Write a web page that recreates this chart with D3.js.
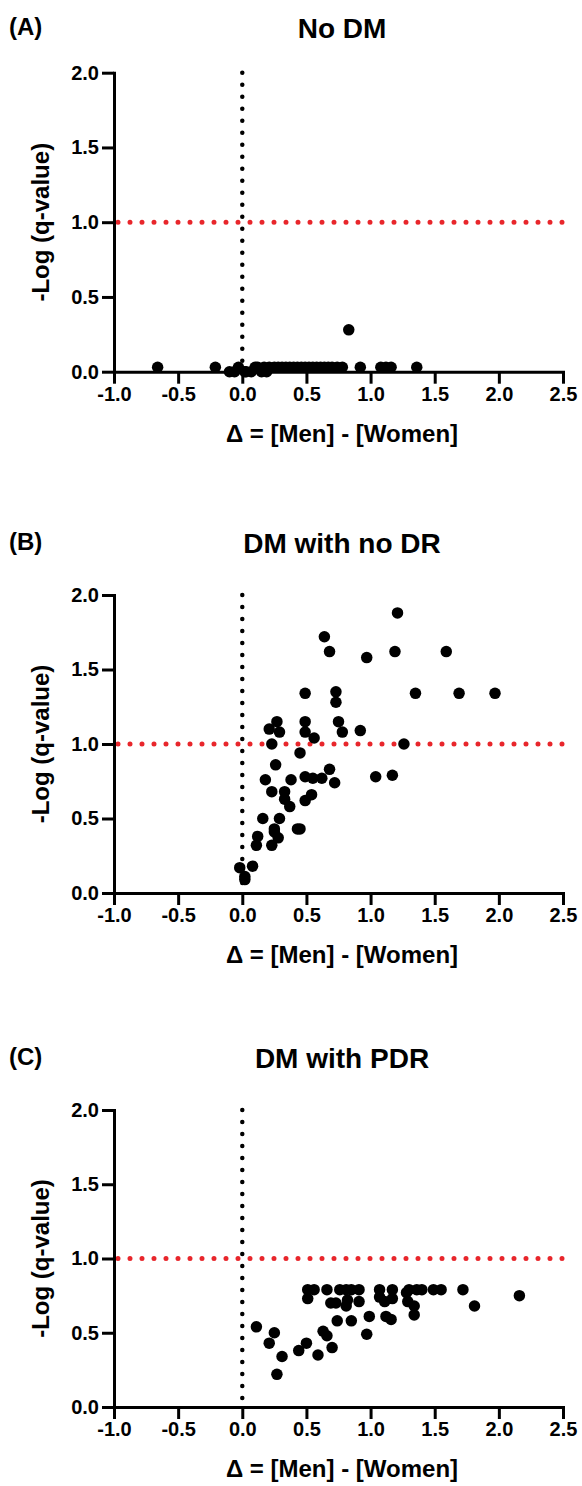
<!DOCTYPE html>
<html lang="en">
<head>
<meta charset="utf-8">
<style>
  body { margin: 0; background: #fff; }
  text { font-family: "Liberation Sans", Arial, sans-serif; font-weight: bold; fill: #000; }
  .axis path, .axis line { stroke: #000; stroke-width: 3; }
  .axis text { font-size: 20px; }
</style>
</head>
<body>
<script src="https://cdn.jsdelivr.net/npm/d3@7"></script>
<script>
// panel labels and titles
var panelLetters = ["(A)", "(B)", "(C)"];
var panelTitles = ["No DM", "DM with no DR", "DM with PDR"];
var xTicks = [-1.0, -0.5, 0.0, 0.5, 1.0, 1.5, 2.0, 2.5];
var yTicks = [0.0, 0.5, 1.0, 1.5, 2.0];
var xTitle = "\u0394 = [Men] - [Women]";
var yTitle = "-Log (q-value)";
var threshold = 1.0;

// (A) No DM
var aX = [-0.66, -0.21, -0.10, -0.06, -0.03, 0.02, 0.03, 0.07, 0.10, 0.12, 0.15, 0.19,
          0.17, 0.21, 0.25, 0.28, 0.31, 0.34, 0.37, 0.40, 0.43, 0.46, 0.49, 0.52, 0.55,
          0.58, 0.61, 0.64, 0.67, 0.70, 0.74, 0.78, 0.83, 0.92, 1.08, 1.12, 1.16, 1.36];
var aY = [0.03, 0.03, 0.00, 0.00, 0.03, 0.00, 0.00, 0.00, 0.03, 0.03, 0.00, 0.00,
          0.03, 0.03, 0.03, 0.03, 0.03, 0.03, 0.03, 0.03, 0.03, 0.03, 0.03, 0.03, 0.03,
          0.03, 0.03, 0.03, 0.03, 0.03, 0.03, 0.03, 0.28, 0.03, 0.03, 0.03, 0.03, 0.03];

// (B) DM with no DR
var bX = [1.21, 0.64, 0.68, 0.97, 1.19, 1.59, 0.49, 0.73, 0.73, 1.35, 1.69, 1.97,
          0.27, 0.21, 0.29, 0.49, 0.49, 0.56, 0.75, 0.78, 0.92, 0.23, 1.26, 0.45,
          0.26, 0.18, 0.38, 0.49, 0.55, 0.62, 0.68, 0.72, 1.04, 1.17, 0.23, 0.33, 0.33,
          0.37, 0.49, 0.54, 0.16, 0.29, 0.25, 0.25, 0.28, 0.43, 0.45, 0.12, 0.11, 0.23,
          -0.02, 0.08, 0.02, 0.02];
var bY = [1.88, 1.72, 1.62, 1.58, 1.62, 1.62, 1.34, 1.35, 1.28, 1.34, 1.34, 1.34,
          1.15, 1.10, 1.08, 1.15, 1.08, 1.04, 1.15, 1.08, 1.09, 1.00, 1.00, 0.94,
          0.86, 0.76, 0.76, 0.78, 0.77, 0.77, 0.83, 0.74, 0.78, 0.79, 0.68, 0.68, 0.63,
          0.58, 0.62, 0.66, 0.50, 0.50, 0.43, 0.41, 0.37, 0.43, 0.43, 0.38, 0.32, 0.32,
          0.17, 0.18, 0.11, 0.09];

// (C) DM with PDR
var cX = [0.51, 0.56, 0.66, 0.76, 0.81, 0.85, 0.91, 1.07, 1.17, 1.30, 1.36, 1.40,
          1.49, 1.55, 1.72, 2.16, 1.81, 0.51, 0.69, 0.73, 0.81, 0.82, 0.91, 1.07,
          1.11, 1.17, 1.28, 1.29, 1.34, 1.34, 1.12, 1.16, 0.99, 0.97, 0.74, 0.85,
          0.63, 0.66, 0.70, 0.59, 0.50, 0.44, 0.11, 0.25, 0.21, 0.31, 0.27];
var cY = [0.79, 0.79, 0.79, 0.79, 0.79, 0.79, 0.79, 0.79, 0.79, 0.79, 0.79, 0.79,
          0.79, 0.79, 0.79, 0.75, 0.68, 0.73, 0.70, 0.70, 0.68, 0.72, 0.71, 0.74,
          0.71, 0.73, 0.77, 0.71, 0.68, 0.62, 0.61, 0.59, 0.61, 0.49, 0.58, 0.58,
          0.51, 0.48, 0.40, 0.35, 0.43, 0.38, 0.54, 0.50, 0.43, 0.34, 0.22];

var seriesX = [aX, bX, cX];
var seriesY = [aY, bY, cY];

// layout of each panel
var labelTop = [20, 535, 1050];
var plotTop = [72.7, 595, 1110];
var plotBottom = [371.7, 893, 1407];
var left = 114, right = 563;

var svg = d3.select("body").append("svg")
  .attr("width", 582)
  .attr("height", 1486);

function fmt(d) { return d.toFixed(1); }

panelTitles.forEach(function(title, i) {
  var x = d3.scaleLinear().domain([-1, 2.5]).range([left, right]);
  var y = d3.scaleLinear().domain([0, 2]).range([plotBottom[i], plotTop[i]]);
  var g = svg.append("g");

  // panel letter and title
  g.append("text")
    .attr("x", 9)
    .attr("y", labelTop[i] + 14.5)
    .style("font-size", "24px")
    .text(panelLetters[i]);
  g.append("text")
    .attr("x", 342)
    .attr("y", labelTop[i] + 17.5)
    .attr("text-anchor", "middle")
    .style("font-size", "28px")
    .text(title);

  // vertical dotted line at 0
  g.append("line")
    .attr("x1", x(0)).attr("x2", x(0))
    .attr("y1", y(2)).attr("y2", y(0))
    .attr("stroke", "#000")
    .attr("stroke-width", 4.5)
    .attr("stroke-linecap", "round")
    .attr("stroke-dasharray", "0,12");

  // red threshold line
  g.append("line")
    .attr("x1", x(-1) + 4).attr("x2", x(2.5))
    .attr("y1", y(threshold)).attr("y2", y(threshold))
    .attr("stroke", "#e8262b")
    .attr("stroke-width", 5)
    .attr("stroke-linecap", "round")
    .attr("stroke-dasharray", "0,12");

  // axes
  g.append("g")
    .attr("class", "axis")
    .attr("transform", "translate(0," + plotBottom[i] + ")")
    .call(d3.axisBottom(x).tickValues(xTicks).tickSize(12).tickSizeOuter(0).tickPadding(3).tickFormat(fmt));
  g.append("g")
    .attr("class", "axis")
    .attr("transform", "translate(" + left + ",0)")
    .call(d3.axisLeft(y).tickValues(yTicks).tickSize(12).tickSizeOuter(0).tickPadding(3).tickFormat(fmt));
  g.selectAll(".axis .domain").attr("stroke-linecap", "square");

  // axis titles
  g.append("text")
    .attr("x", 342)
    .attr("y", plotBottom[i] + 70)
    .attr("text-anchor", "middle")
    .style("font-size", "24px")
    .text(xTitle);
  g.append("text")
    .attr("transform", "translate(49," + y(1) + ") rotate(-90)")
    .attr("text-anchor", "middle")
    .style("font-size", "24px")
    .text(yTitle);

  // points
  var pts = seriesX[i].map(function(v, k) { return {x: v, y: seriesY[i][k]}; });
  g.selectAll(".dot")
    .data(pts)
    .enter()
    .append("circle")
    .attr("class", "dot")
    .attr("cx", function(d) { return x(d.x); })
    .attr("cy", function(d) { return y(d.y); })
    .attr("r", 5.75)
    .attr("fill", "#000");
});
</script>
</body>
</html>
